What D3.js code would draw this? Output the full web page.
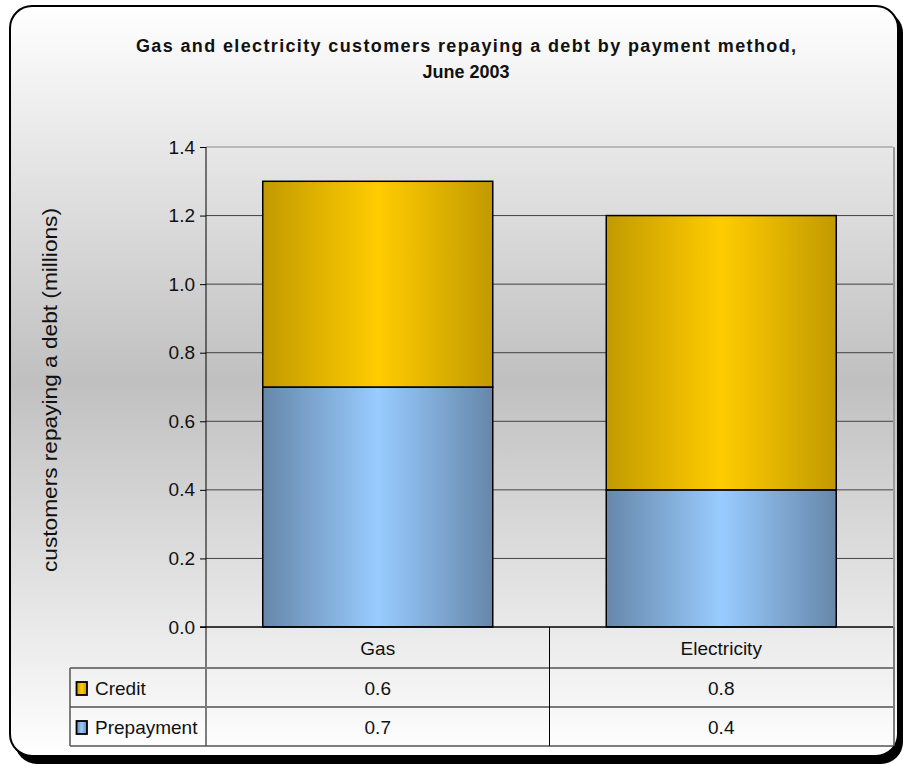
<!DOCTYPE html>
<html>
<head>
<meta charset="utf-8">
<script src="https://cdn.jsdelivr.net/npm/d3@7"></script>
<style>
  html, body { margin: 0; padding: 0; background: #ffffff; }
  svg { display: block; font-family: "Liberation Sans", Arial, sans-serif; }
</style>
</head>
<body>
<svg id="chart" width="903" height="769"></svg>
<script>
// ---- data ----
const categories = ["Gas", "Electricity"];
const seriesNames = ["Credit", "Prepayment"];
const prepayment = [0.7, 0.4];
const credit = [0.6, 0.8];
const yTicks = [0, 0.2, 0.4, 0.6, 0.8, 1.0, 1.2, 1.4];
const titleLines = ["Gas and electricity customers repaying a debt by payment method,", "June 2003"];
const yTitle = "customers repaying a debt (millions)";

const svg = d3.select("#chart");
const defs = svg.append("defs");

// background gradient
const bg = defs.append("linearGradient").attr("id", "bg").attr("x1", 0).attr("y1", 0).attr("x2", 0).attr("y2", 1);
bg.append("stop").attr("offset", "0%").attr("stop-color", "#ffffff");
bg.append("stop").attr("offset", "50%").attr("stop-color", "#c0c0c0");
bg.append("stop").attr("offset", "100%").attr("stop-color", "#ffffff");

function barGrad(id, edge, center) {
  const g = defs.append("linearGradient").attr("id", id).attr("x1", 0).attr("y1", 0).attr("x2", 1).attr("y2", 0);
  g.append("stop").attr("offset", "0%").attr("stop-color", edge);
  g.append("stop").attr("offset", "50%").attr("stop-color", center);
  g.append("stop").attr("offset", "100%").attr("stop-color", edge);
}
barGrad("gold", "#c29a00", "#ffcc00");
barGrad("blue", "#6687aa", "#99ccff");
const fills = { Credit: "url(#gold)", Prepayment: "url(#blue)" };

// outer frame with shadow
svg.append("rect").attr("x", 15).attr("y", 11).attr("width", 888).attr("height", 753)
  .attr("rx", 22).attr("fill", "#000");
svg.append("rect").attr("x", 10).attr("y", 6).attr("width", 888).attr("height", 750)
  .attr("rx", 22).attr("fill", "url(#bg)").attr("stroke", "#000").attr("stroke-width", 2);

// scales
const plotL = 206, plotR = 893, plotT = 147, plotB = 627;
const x = d3.scaleBand().domain(categories).range([plotL, plotR]).paddingInner(0.3304).paddingOuter(0.1652);
const y = d3.scaleLinear().domain([0, 1.4]).range([plotB, plotT]);

// gridlines
svg.append("g").selectAll("line").data(yTicks.filter(d => d > 0)).join("line")
  .attr("x1", plotL).attr("x2", plotR)
  .attr("y1", d => y(d)).attr("y2", d => y(d))
  .attr("stroke", d => d === 1.4 ? "#8a8a8a" : "#404040").attr("stroke-width", 1);

// plot right border
svg.append("line").attr("x1", plotR + 1).attr("x2", plotR + 1).attr("y1", plotT).attr("y2", plotB)
  .attr("stroke", "#999").attr("stroke-width", 2);

// stacked bars
const stackData = categories.map((c, i) => ({ cat: c, Prepayment: prepayment[i], Credit: credit[i] }));
const stack = d3.stack().keys(["Prepayment", "Credit"]);
const layers = stack(stackData);
layers.forEach(layer => {
  svg.append("g").selectAll("rect").data(layer).join("rect")
    .attr("x", d => x(d.data.cat))
    .attr("width", x.bandwidth())
    .attr("y", d => y(d[1]))
    .attr("height", d => y(d[0]) - y(d[1]))
    .attr("fill", fills[layer.key])
    .attr("stroke", "#000").attr("stroke-width", 1.5);
});

// y axis
const yAxis = d3.axisLeft(y).tickValues(yTicks).tickFormat(d3.format(".1f")).tickSize(6).tickPadding(5);
const ya = svg.append("g").attr("transform", `translate(${plotL},0)`).call(yAxis);
ya.select(".domain").remove();
ya.selectAll(".tick line").attr("stroke", "#000");
ya.selectAll(".tick text").attr("font-size", 19).attr("fill", "#111").attr("font-family", "Liberation Sans, Arial, sans-serif");
svg.append("line").attr("x1", plotL).attr("x2", plotL).attr("y1", plotT).attr("y2", 746).attr("stroke", "#000").attr("stroke-width", 1);
// x axis baseline
svg.append("line").attr("x1", plotL - 6).attr("x2", plotR).attr("y1", plotB).attr("y2", plotB).attr("stroke", "#000").attr("stroke-width", 1.5);

// data table
const rowH = [627, 668, 707, 746];
const tableL = 70;
const colEdges = [plotL, plotL + x.step(), plotR];
const tbl = svg.append("g");
tbl.append("line").attr("x1", tableL).attr("x2", plotR).attr("y1", rowH[1]).attr("y2", rowH[1]).attr("stroke", "#7a7a7a").attr("stroke-width", 2);
tbl.append("line").attr("x1", tableL).attr("x2", plotR).attr("y1", rowH[2]).attr("y2", rowH[2]).attr("stroke", "#7a7a7a").attr("stroke-width", 2);
tbl.append("line").attr("x1", tableL).attr("x2", plotR).attr("y1", rowH[3]).attr("y2", rowH[3]).attr("stroke", "#555").attr("stroke-width", 1.5);
tbl.append("line").attr("x1", tableL).attr("x2", tableL).attr("y1", rowH[1]).attr("y2", rowH[3]).attr("stroke", "#555").attr("stroke-width", 1.5);
tbl.append("line").attr("x1", colEdges[1]).attr("x2", colEdges[1]).attr("y1", rowH[0]).attr("y2", rowH[3]).attr("stroke", "#000").attr("stroke-width", 1);
tbl.append("line").attr("x1", plotR + 1).attr("x2", plotR + 1).attr("y1", rowH[0]).attr("y2", rowH[3]).attr("stroke", "#555").attr("stroke-width", 1.5);

// header: category names
tbl.selectAll("text.cat").data(categories).join("text").attr("class", "cat")
  .attr("x", d => x(d) + x.bandwidth() / 2).attr("y", (rowH[0] + rowH[1]) / 2 + 1)
  .attr("text-anchor", "middle").attr("dominant-baseline", "central")
  .attr("font-size", 19).attr("fill", "#111").text(d => d);

// value rows
const rows = [{ name: "Credit", vals: credit }, { name: "Prepayment", vals: prepayment }];
rows.forEach((r, ri) => {
  const cy = (rowH[ri + 1] + rowH[ri + 2]) / 2 + 1;
  tbl.selectAll(null).data(categories).join("text")
    .attr("x", d => x(d) + x.bandwidth() / 2).attr("y", cy)
    .attr("text-anchor", "middle").attr("dominant-baseline", "central")
    .attr("font-size", 19).attr("fill", "#111")
    .text((d, i) => d3.format(".1f")(r.vals[i]));
  tbl.append("rect").attr("x", 76.5).attr("y", cy - 6.5).attr("width", 10.5).attr("height", 13)
    .attr("fill", fills[r.name]).attr("stroke", "#000").attr("stroke-width", 1.8);
  tbl.append("text").attr("x", 95).attr("y", cy).attr("dominant-baseline", "central")
    .attr("font-size", 19).attr("fill", "#111").text(r.name);
});

// title
titleLines.forEach((t, i) => {
  const el = svg.append("text").attr("x", 466).attr("y", 52 + i * 26)
    .attr("text-anchor", "middle").attr("font-size", 18).attr("font-weight", "bold").attr("fill", "#111").text(t);
  if (i === 0) el.attr("textLength", 660).attr("lengthAdjust", "spacing");
});

// y title
svg.append("text").attr("transform", `translate(50,${(plotT + plotB) / 2 + 3}) rotate(-90)`)
  .attr("text-anchor", "middle").attr("dominant-baseline", "central")
  .attr("font-size", 20).attr("fill", "#111").text(yTitle)
  .attr("textLength", 364).attr("lengthAdjust", "spacingAndGlyphs");
</script>
</body>
</html>
